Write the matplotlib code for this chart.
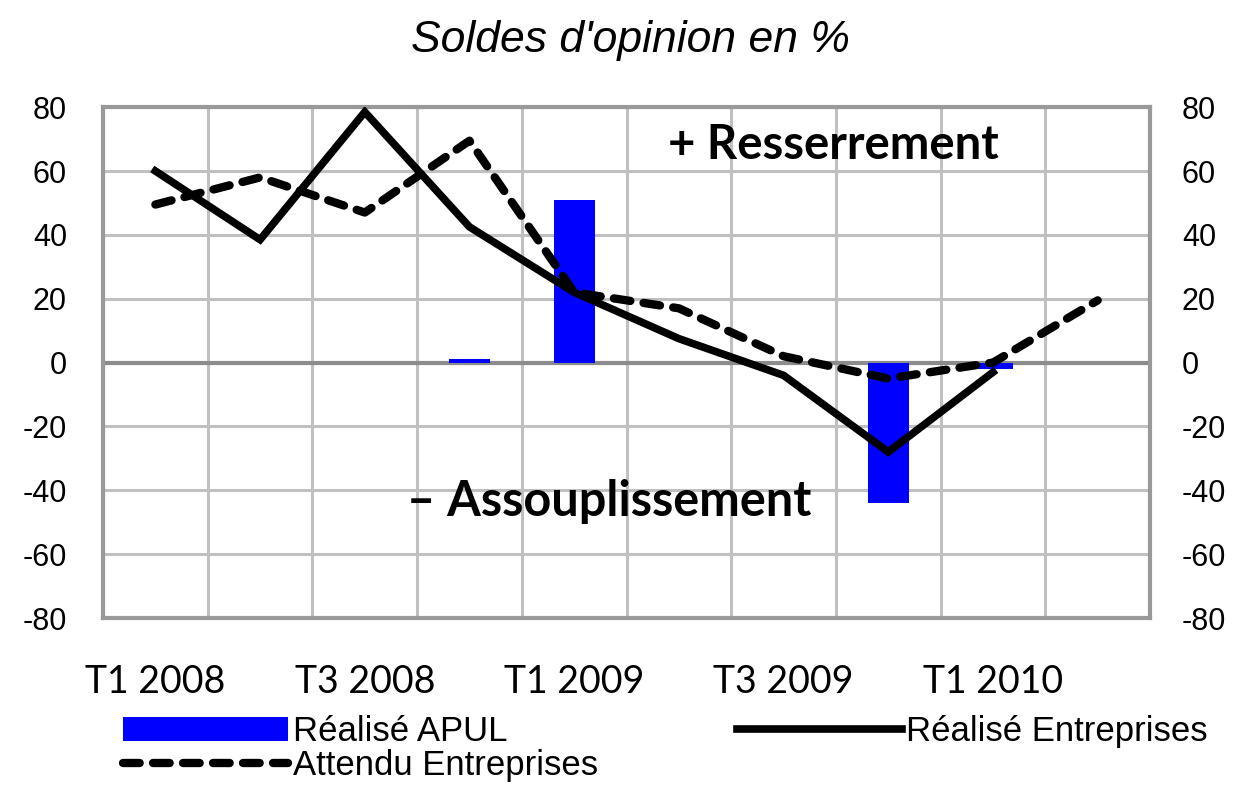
import numpy as np
import matplotlib.pyplot as plt

plt.rcParams['axes.unicode_minus'] = False

quarters = ['T1 2008', 'T2 2008', 'T3 2008', 'T4 2008', 'T1 2009',
            'T2 2009', 'T3 2009', 'T4 2009', 'T1 2010', 'T2 2010']
apul = [np.nan, np.nan, np.nan, 1, 51, np.nan, np.nan, -44, -2, np.nan]
realise_ent = [60, 38.5, 78.5, 42.5, 22, 7.5, -4, -28, -3, np.nan]
attendu_ent = [49.5, 58, 47, 69.5, 22, 17, 2, -5, 0, 19.5]

tick_font = 'Lato'
text_font = 'Liberation Sans'

fig = plt.figure(figsize=(12.37, 7.88), dpi=100)
ax = fig.add_axes([0.0833, 0.2157, 0.8464, 0.6483])

x = np.arange(len(quarters))
bars = ax.bar(x, apul, width=0.39, color='#0000ff', zorder=3, label='Réalisé APUL')
l_att, = ax.plot(x, attendu_ent, color='black', lw=6, dashes=(2.0, 1.6),
                 dash_capstyle='round', zorder=4, label='Attendu Entreprises')
l_real, = ax.plot(x, realise_ent, color='black', lw=5.5, solid_joinstyle='miter',
                  zorder=5, label='Réalisé Entreprises')

ax.set_xlim(-0.5, 9.5)
ax.set_ylim(-80, 80)
ax.set_yticks(np.arange(-80, 81, 20))
ax.set_xticks(np.arange(-0.5, 10, 1), minor=False)
ax.set_xticklabels([])
ax.set_xticks(x[::2], minor=True)
ax.set_xticklabels(quarters[::2], minor=True, fontsize=27, family=tick_font)
ax.tick_params(axis='x', which='both', length=0, pad=33)
ax.tick_params(axis='y', length=0, labelsize=22, pad=26)
for lab in ax.get_yticklabels():
    lab.set_family(text_font)

ax.grid(True, which='major', color='#c0c0c0', lw=2.2, zorder=0)
ax.axhline(0, color='#8c8c8c', lw=3, zorder=2)
for s in ax.spines.values():
    s.set_color('#999999')
    s.set_linewidth(3)
ax.set_axisbelow(True)

ax2 = ax.twinx()
ax2.set_ylim(-80, 80)
ax2.set_yticks(np.arange(-80, 81, 20))
ax2.tick_params(axis='y', length=0, labelsize=22, pad=23)
for lab in ax2.get_yticklabels():
    lab.set_family(text_font)
for s in ax2.spines.values():
    s.set_visible(False)

ax.text(6.48, 68, '+ Resserrement', fontsize=34, fontweight='bold',
        family=tick_font, ha='center', va='center')
ax.text(4.33, -43.5, '– Assouplissement', fontsize=35, fontweight='bold',
        family=tick_font, ha='center', va='center')

fig.text(0.51, 0.948, "Soldes d'opinion en %", fontsize=32, style='italic',
         family=text_font, ha='center', va='center')

fig.legend([bars, l_att, l_real],
           ['Réalisé APUL', 'Attendu Entreprises', 'Réalisé Entreprises'],
           ncol=2, loc='upper left', bbox_to_anchor=(0.074, 0.132),
           frameon=False, handlelength=4.75, handleheight=0.7,
           handletextpad=0.14, columnspacing=4.0, labelspacing=0.02,
           prop={'family': text_font, 'size': 25})

fig.savefig('out.png', dpi=100)
